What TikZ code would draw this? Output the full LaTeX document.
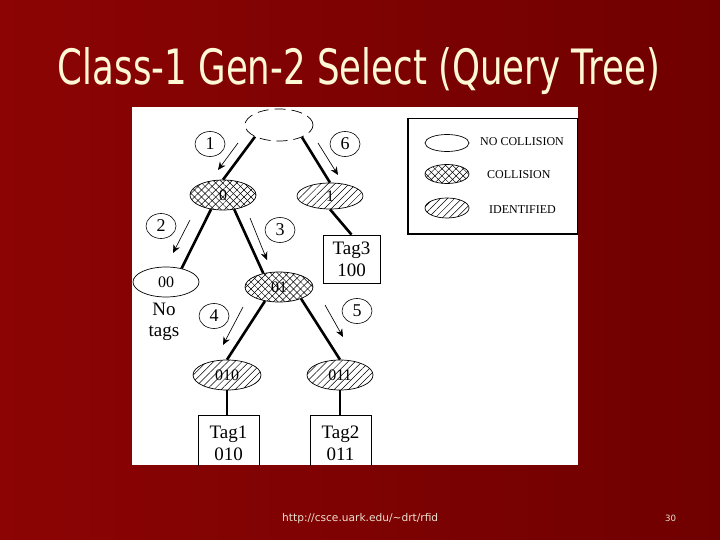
\documentclass[tikz,border=0pt]{standalone}
\usepackage{fontspec}
\setmainfont{Liberation Serif}
\newfontfamily\titlefont{DejaVu Sans}
\usetikzlibrary{shapes.geometric,patterns.meta,arrows.meta}
\definecolor{bgL}{RGB}{140,4,4}
\definecolor{bgR}{RGB}{112,0,0}
\definecolor{titlecol}{RGB}{255,248,215}
\definecolor{footcol}{RGB}{235,225,210}
\tikzset{
  oval/.style={ellipse, draw, line width=0.7pt, inner sep=0pt, font=\fontsize{16}{18}\selectfont},
  nocoll/.style={oval, fill=white},
  coll/.style={oval, preaction={pattern={Lines[angle=45,distance=5pt,line width=0.5pt]}},
               pattern={Lines[angle=-45,distance=5pt,line width=0.5pt]}},
  ident/.style={oval, pattern={Lines[angle=45,distance=5pt,line width=0.5pt]}},
  stepnum/.style={ellipse, draw, line width=0.6pt, minimum width=30pt, minimum height=25pt, inner sep=0pt,
                  font=\fontsize{18}{20}\selectfont},
  edge/.style={line width=2.6pt},
  arr/.style={line width=0.65pt, -{Stealth[length=8pt,width=7pt]}},
  tagbox/.style={draw, line width=0.8pt, align=center, inner sep=0pt,
                 font=\fontsize{19}{22}\selectfont},
  legtext/.style={anchor=west, inner sep=0pt, font=\fontsize{12}{14}\selectfont}
}
\begin{document}
\begin{tikzpicture}[x=1pt,y=-1pt]
\shade[left color=bgL,right color=bgR] (0,0) rectangle (720,540);
\useasboundingbox (0,0) rectangle (720,540);
% title
\node[text=titlecol, inner sep=0pt, anchor=base] (title) at (359,85)
  {\resizebox{602pt}{37pt}{\titlefont Class-1 Gen-2 Select (Query Tree)}};
% footer
\node[text=footcol, inner sep=0pt, anchor=base west] (url) at (282,521)
  {\resizebox{156pt}{!}{\titlefont http://csce.uark.edu/\textasciitilde drt/rfid}};
\node[text=footcol, inner sep=0pt, anchor=base west] (pnum) at (665,521)
  {\resizebox{11pt}{!}{\titlefont 30}};
% panel
\fill[white] (132,107) rectangle (578,465);
\begin{scope}
\clip (132,106) rectangle (578,465);
% tree nodes
\node[oval, fill=white, dashed, dash pattern=on 11pt off 6pt, minimum width=68pt, minimum height=32pt] (root) at (279,125) {};
\node[coll, minimum width=66pt, minimum height=30pt] (n0) at (223,195) {0};
\node[ident, minimum width=66pt, minimum height=26pt] (n1) at (330,196) {1};
\node[nocoll, minimum width=66pt, minimum height=30pt] (n00) at (166,282) {00};
\node[coll, minimum width=68pt, minimum height=30pt] (n01) at (279,287) {01};
\node[ident, minimum width=68pt, minimum height=30pt] (n010) at (227,375) {010};
\node[ident, minimum width=66pt, minimum height=30pt] (n011) at (340,375) {011};
\node[tagbox, minimum width=57pt, minimum height=48pt] (tag3) at (351.5,259) {Tag3\\100};
\node[tagbox, minimum width=61pt, minimum height=56pt, anchor=north] (tag1) at (228.5,415) {Tag1\\010};
\node[tagbox, minimum width=61pt, minimum height=56pt, anchor=north] (tag2) at (340.5,415) {Tag2\\011};
\node[align=center, inner sep=0pt, font=\fontsize{19}{21}\selectfont] (notags) at (164,322) {No\\tags};
% edges
\draw[edge] (root.206) -- (n0.north);
\draw[edge] (root.332) -- (n1.north);
\draw[edge] (n0.230) -- (n00.41);
\draw[edge] (n0.308) -- (n01.139);
\draw[edge] (n1.south) -- (tag3.north);
\draw[edge] (n01.225) -- (n010.north);
\draw[edge] (n01.332) -- (n011.north);
\draw[edge] (n010.south) -- (tag1.north -| n010.south);
\draw[edge] (n011.south) -- (tag2.north -| n011.south);
% step numbers
\node[stepnum] (c1) at (210,144) {1};
\node[stepnum] (c6) at (345,144) {6};
\node[stepnum] (c2) at (161,226) {2};
\node[stepnum] (c3) at (280,230) {3};
\node[stepnum] (c4) at (214,316) {4};
\node[stepnum] (c5) at (357,311) {5};
% step arrows
\coordinate (a1s) at (238,143); \coordinate (a1e) at (218,170);
\coordinate (a6s) at (318,143); \coordinate (a6e) at (338,175);
\coordinate (a2s) at (190,220); \coordinate (a2e) at (173,253);
\coordinate (a3s) at (250,218); \coordinate (a3e) at (267,260);
\coordinate (a4s) at (243,307); \coordinate (a4e) at (223,345);
\coordinate (a5s) at (325,305); \coordinate (a5e) at (343,337);
\draw[arr] (a1s) -- (a1e);
\draw[arr] (a6s) -- (a6e);
\draw[arr] (a2s) -- (a2e);
\draw[arr] (a3s) -- (a3e);
\draw[arr] (a4s) -- (a4e);
\draw[arr] (a5s) -- (a5e);
% legend
\node[draw, line width=1.5pt, minimum width=170pt, minimum height=115pt, anchor=north west, inner sep=0pt] (legend) at (407,118) {};
\node[nocoll, minimum width=44pt, minimum height=17pt] (lg1) at (447,143) {};
\node[coll, minimum width=44pt, minimum height=19pt] (lg2) at (447,174) {};
\node[ident, minimum width=44pt, minimum height=20pt] (lg3) at (447,208) {};
\node[legtext] (lt1) at (480,142) {NO COLLISION};
\node[legtext] (lt2) at (487,175) {COLLISION};
\node[legtext] (lt3) at (489,210) {IDENTIFIED};
\end{scope}
\end{tikzpicture}
\end{document}
